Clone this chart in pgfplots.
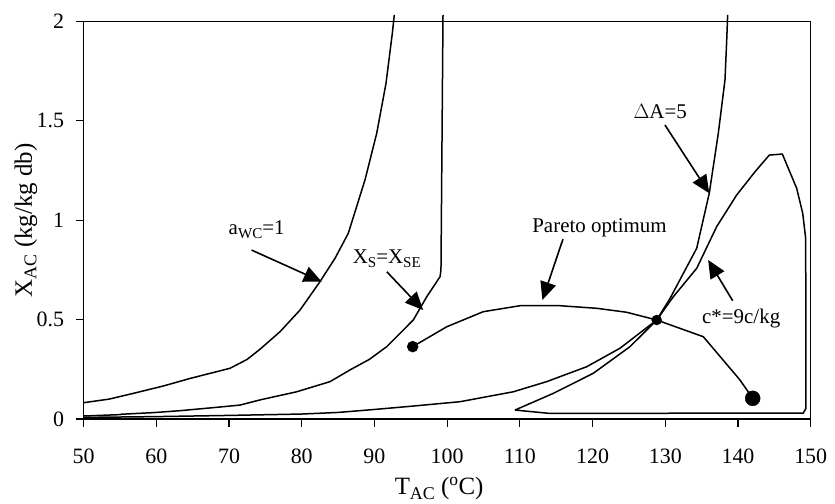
\documentclass[border=0pt]{standalone}
\usepackage{fontspec}
\setmainfont{Liberation Serif}
\usepackage{pgfplots}
\pgfplotsset{compat=1.18}
\usetikzlibrary{arrows.meta,calc}
\newcommand{\sub}[1]{\raisebox{-0.18em}{\scalebox{0.72}{#1}}}
\tikzset{
  annot/.style={font=\fontsize{21}{23}\selectfont, anchor=base},
  arr/.style={line width=1.6bp, -{Triangle[length=18bp,width=16bp]}},
  crv/.style={black, line width=1.5bp, mark=none},
}
\begin{document}
\begin{tikzpicture}
\begin{axis}[
  scale only axis, width=727.1bp, height=397.5bp,
  xmin=50, xmax=150, ymin=0, ymax=2,
  xtick={50,60,...,150}, ytick={0,0.5,1,1.5,2},
  tick align=outside, xtick pos=bottom, ytick pos=left,
  major tick length=8bp,
  axis line style={line width=1.1bp},
  every tick/.style={black, line width=1.1bp},
  /pgf/number format/assume math mode=true,
  ticklabel style={font=\fontsize{22}{24}\selectfont},
  xticklabel style={yshift=-18bp},
  yticklabel style={xshift=-8bp},
  xlabel={T\sub{AC} (\textsuperscript{o}C)},
  ylabel={X\sub{AC} (kg/kg db)},
  label style={font=\fontsize{25}{27}\selectfont},
  xlabel style={at={(axis description cs:0.489,-0.191)}, anchor=base},
  ylabel style={at={(axis description cs:-0.071,0.5)}, anchor=base},
  clip=false,
]
% a_wc = 1
\addplot[crv] coordinates {(50,0.082) (53.5,0.10) (56.84,0.129) (60.96,0.166) (64.63,0.204) (70.13,0.255) (72.5,0.30) (74.26,0.351) (77.01,0.439) (79.76,0.548) (82.51,0.691) (84.6,0.81) (86.40,0.934) (88.70,1.203) (90.31,1.437) (91.59,1.689) (92.46,1.941) (92.73,2.033)};
% Xs = Xse
\addplot[crv] coordinates {(50,0.015) (55.0,0.022) (55.2,0.024) (59.6,0.032) (63.3,0.042) (67.8,0.057) (71.5,0.070) (74.26,0.096) (79.31,0.137) (83.89,0.188) (86.64,0.247) (89.3,0.30) (91.69,0.364) (95.34,0.498) (97.19,0.615) (99.02,0.716) (99.15,0.75) (99.43,2.033)};
% Delta A = 5
\addplot[crv] coordinates {(50,0.008) (60,0.012) (70,0.018) (80,0.025) (85,0.033) (90,0.048) (95,0.064) (101.77,0.087) (109.1,0.137) (113.69,0.188) (119.19,0.263) (123.77,0.356) (128.82,0.498) (130.66,0.607) (134.32,0.859) (136.05,1.136) (137.29,1.437) (138.21,1.706) (138.45,1.907) (138.58,2.033)};
% c* = 9c/kg contour
\addplot[crv] coordinates {(109.33,0.045) (114.6,0.129) (120.1,0.230) (125.15,0.364) (128.82,0.498) (131.1,0.615) (134.32,0.758) (137.07,0.968) (139.82,1.127) (142.34,1.244) (144.31,1.328) (146.10,1.333) (148.07,1.161) (148.90,1.035) (149.31,0.909) (149.35,0.054) (148.98,0.030) (114.15,0.028) (109.33,0.045)};
% Pareto optimum
\addplot[crv] coordinates {(95.26,0.364) (99.94,0.464) (104.97,0.540) (110.02,0.570) (115.52,0.570) (120.57,0.557) (124.69,0.537) (128.82,0.498) (135.23,0.414) (140.28,0.196) (142.02,0.104)};
\addplot[only marks, mark=*, mark size=5.5bp, black] coordinates {(95.26,0.364)};
\addplot[only marks, mark=*, mark size=5bp, black] coordinates {(128.82,0.498)};
\addplot[only marks, mark=*, mark size=7.5bp, black] coordinates {(142.02,0.104)};
% annotations
\node[annot] at (axis cs:73.8,0.926) {a\sub{WC}=1};
\draw[arr] (axis cs:73.1,0.850) -- (axis cs:82.75,0.691);
\node[annot] at (axis cs:91.7,0.78) {X\sub{S}=X\sub{SE}};
\draw[arr] (axis cs:91.7,0.741) -- (axis cs:96.7,0.548);
\node[annot] at (axis cs:120.95,0.938) {Pareto optimum};
\draw[arr] (axis cs:115.93,0.905) -- (axis cs:113.1,0.599);
\node[annot] at (axis cs:129.3,1.513) {$\Delta$A=5};
\draw[arr] (axis cs:129.96,1.479) -- (axis cs:136.05,1.136);
\node[annot] at (axis cs:140.44,0.4815) {c*=9c/kg};
\draw[arr] (axis cs:139.27,0.595) -- (axis cs:135.9,0.80);
\end{axis}
\pgfresetboundingbox
\path[use as bounding box] ($(current axis.south west)+(-83.6bp,-85bp)$) rectangle ($(current axis.north east)+(24.3bp,21.5bp)$);
\end{tikzpicture}
\end{document}
